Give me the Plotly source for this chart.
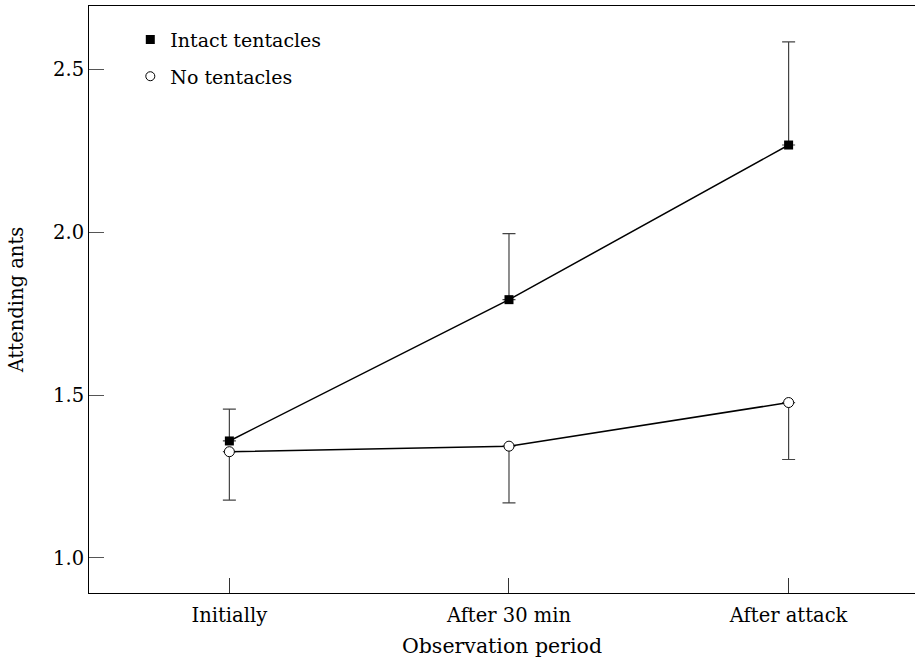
import plotly.graph_objects as go

categories = ["Initially", "After 30 min", "After attack"]
intact_mean = [1.359, 1.793, 2.268]
intact_err_up = [0.098, 0.203, 0.317]
none_mean = [1.326, 1.343, 1.477]
none_err_down = [0.149, 0.174, 0.175]
series_names = ["Intact tentacles", "No tentacles"]
y_ticks = [1.0, 1.5, 2.0, 2.5]

xi = list(range(len(categories)))
FONT = "DejaVu Serif"

fig = go.Figure()
fig.add_trace(go.Scatter(
    x=xi, y=intact_mean, mode="lines+markers", showlegend=False,
    line=dict(color="black", width=1.5),
    marker=dict(symbol="square", size=9, color="black"),
    error_y=dict(type="data", array=intact_err_up, arrayminus=[0]*3, symmetric=False,
                 color="#444444", thickness=1.2, width=6.5),
))
fig.add_trace(go.Scatter(
    x=xi, y=none_mean, mode="lines+markers", showlegend=False,
    line=dict(color="black", width=1.5),
    marker=dict(symbol="circle", size=10, color="white", line=dict(color="black", width=1)),
    error_y=dict(type="data", array=[0]*3, arrayminus=none_err_down, symmetric=False,
                 color="#444444", thickness=1.2, width=6.5),
))
# legend-only entries (markers only)
fig.add_trace(go.Scatter(x=[None], y=[None], mode="markers", name=series_names[0],
                         legendgroup="a",
                         marker=dict(symbol="square", size=9, color="black")))
fig.add_trace(go.Scatter(x=[None], y=[None], mode="markers", name=series_names[1],
                         legendgroup="b",
                         marker=dict(symbol="circle", size=9, color="white",
                                     line=dict(color="black", width=1))))

fig.update_layout(
    width=915, height=660,
    margin=dict(l=89, r=0, t=6, b=67),
    paper_bgcolor="white", plot_bgcolor="white",
    font=dict(family=FONT, size=19, color="black"),
    legend=dict(x=0.05, y=0.975, xanchor="left", yanchor="top",
                bgcolor="rgba(0,0,0,0)", tracegroupgap=9,
                font=dict(family=FONT, size=19)),
    xaxis=dict(
        range=[-0.502, 2.452], tickvals=xi, ticktext=categories,
        ticks="inside", ticklen=15, tickcolor="#333333", tickwidth=1,
        showline=True, linecolor="black", linewidth=1, mirror=True,
        showgrid=False, zeroline=False, ticklabelstandoff=5,
        tickfont=dict(family=FONT, size=19.5),
        title=dict(text="Observation period", standoff=12,
                   font=dict(family=FONT, size=20.5)),
    ),
    yaxis=dict(
        range=[0.892, 2.695], tickvals=y_ticks, ticktext=["1.0", "1.5", "2.0", "2.5"],
        ticks="inside", ticklen=15, tickcolor="#555555", tickwidth=1,
        showline=True, linecolor="black", linewidth=1, mirror=False,
        showgrid=False, zeroline=False,
        tickfont=dict(family=FONT, size=19.5),
        title=dict(text="Attending ants", standoff=24,
                   font=dict(family=FONT, size=19.5)),
    ),
)

fig.write_html("out.html")
